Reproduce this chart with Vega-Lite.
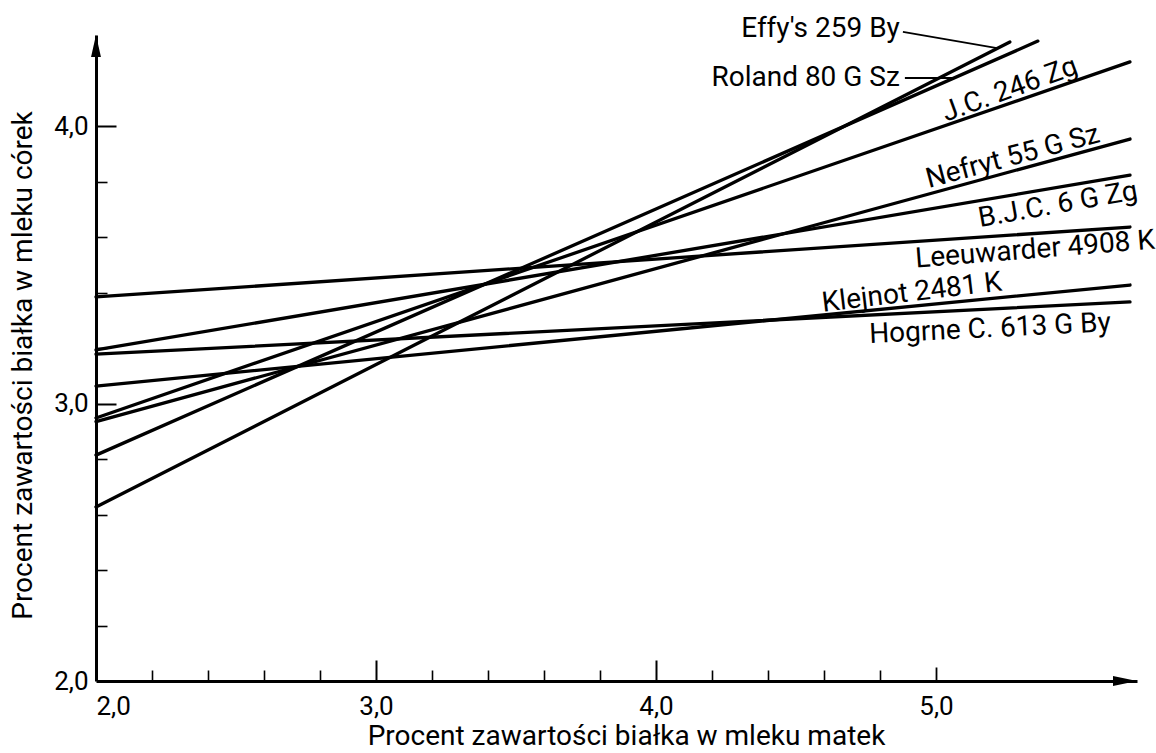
{
  "$schema": "https://vega.github.io/schema/vega-lite/v6.json",
  "width": 1041,
  "height": 646,
  "autosize": {"type": "none"},
  "padding": {"left": 96, "top": 35, "right": 19, "bottom": 72},
  "background": "white",
  "config": {"view": {"stroke": null}, "font": "Roboto", "axis": {"grid": false}},
  "datasets": {
    "lines": [
      {"name": "Effy's 259 By", "x": 2.0, "y": 2.627},
      {"name": "Effy's 259 By", "x": 5.264, "y": 4.303},
      {"name": "Roland 80 G Sz", "x": 2.0, "y": 2.814},
      {"name": "Roland 80 G Sz", "x": 5.364, "y": 4.306},
      {"name": "J.C. 246 Zg", "x": 2.0, "y": 2.948},
      {"name": "J.C. 246 Zg", "x": 5.693, "y": 4.231},
      {"name": "Nefryt 55 G Sz", "x": 2.0, "y": 2.935},
      {"name": "Nefryt 55 G Sz", "x": 5.693, "y": 3.953},
      {"name": "B.J.C. 6 G Zg", "x": 2.0, "y": 3.193},
      {"name": "B.J.C. 6 G Zg", "x": 5.693, "y": 3.823},
      {"name": "Leeuwarder 4908 K", "x": 2.0, "y": 3.384},
      {"name": "Leeuwarder 4908 K", "x": 5.693, "y": 3.636},
      {"name": "Klejnot 2481 K", "x": 2.0, "y": 3.063},
      {"name": "Klejnot 2481 K", "x": 5.693, "y": 3.427},
      {"name": "Hogrne C. 613 G By", "x": 2.0, "y": 3.178},
      {"name": "Hogrne C. 613 G By", "x": 5.693, "y": 3.366}
    ],
    "labels": [
      {"name": "Effy's 259 By", "x": 4.871, "y": 4.350},
      {"name": "Roland 80 G Sz", "x": 4.871, "y": 4.173},
      {"name": "J.C. 246 Zg", "x": 5.264, "y": 4.130},
      {"name": "Nefryt 55 G Sz", "x": 5.275, "y": 3.888},
      {"name": "B.J.C. 6 G Zg", "x": 5.436, "y": 3.715},
      {"name": "Leeuwarder 4908 K", "x": 5.354, "y": 3.553},
      {"name": "Klejnot 2481 K", "x": 4.914, "y": 3.398},
      {"name": "Hogrne C. 613 G By", "x": 5.193, "y": 3.268}
    ],
    "leaders": [
      {"name": "Effy's 259 By", "x": 4.882, "y": 4.339, "x2": 5.218, "y2": 4.281},
      {"name": "Roland 80 G Sz", "x": 4.889, "y": 4.173, "x2": 5.068, "y2": 4.173}
    ],
    "arrows": [
      {"axis": "y", "x": 2.0, "y": 4.328},
      {"axis": "x", "x": 5.718, "y": 2.0}
    ]
  },
  "resolve": {"axis": {"x": "independent", "y": "independent"}},
  "layer": [
    {
      "data": {"name": "lines"},
      "mark": {"type": "line", "color": "black", "strokeWidth": 3.3, "strokeCap": "round"},
      "encoding": {
        "x": {"field": "x", "type": "quantitative",
              "scale": {"domain": [2, 5.718], "nice": false, "zero": false},
              "axis": {"orient": "bottom", "values": [2, 3, 4, 5], "format": ".1f",
                       "labelExpr": "replace(datum.label, '.', ',')",
                       "ticks": false, "domain": true, "domainColor": "black", "domainWidth": 3,
                       "labelFontSize": 26, "labelColor": "black", "labelPadding": 12,
                       "title": "Procent  zawartości białka w mleku matek",
                       "titleFontSize": 28, "titleFontWeight": "normal", "titleColor": "black",
                       "titlePadding": 3, "titleX": 530}},
        "y": {"field": "y", "type": "quantitative",
              "scale": {"domain": [2, 4.328], "nice": false, "zero": false},
              "axis": {"orient": "left", "values": [2, 3, 4], "format": ".1f",
                       "labelExpr": "replace(datum.label, '.', ',')",
                       "ticks": false, "domain": true, "domainColor": "black", "domainWidth": 3,
                       "labelFontSize": 26, "labelColor": "black", "labelPadding": 8,
                       "title": "Procent  zawartości  białka w mleku córek",
                       "titleFontSize": 28, "titleFontWeight": "normal", "titleColor": "black",
                       "titlePadding": 16, "titleY": 330}},
        "detail": {"field": "name"}
      }
    },
    {
      "data": {"name": "lines"},
      "mark": {"type": "point", "opacity": 0},
      "encoding": {
        "x": {"field": "x", "type": "quantitative",
              "scale": {"domain": [2, 5.718], "nice": false, "zero": false},
              "axis": {"orient": "bottom", "values": [3, 4], "tickSize": -21, "tickWidth": 2,
                       "tickColor": "black", "labels": false, "domain": false, "title": null}},
        "y": {"field": "y", "type": "quantitative",
              "scale": {"domain": [2, 4.328], "nice": false, "zero": false},
              "axis": {"orient": "left", "values": [3, 4], "tickSize": -20, "tickWidth": 2,
                       "tickColor": "black", "labels": false, "domain": false, "title": null}}
      }
    },
    {
      "data": {"name": "lines"},
      "mark": {"type": "point", "opacity": 0},
      "encoding": {
        "x": {"field": "x", "type": "quantitative",
              "scale": {"domain": [2, 5.718], "nice": false, "zero": false},
              "axis": {"orient": "bottom", "values": [2.2, 2.4, 2.6, 2.8, 3.2, 3.4, 3.6, 3.8, 4.2, 4.4, 4.6, 4.8],
                       "tickSize": -11, "tickWidth": 1.6,
                       "tickColor": "black", "labels": false, "domain": false, "title": null}},
        "y": {"field": "y", "type": "quantitative",
              "scale": {"domain": [2, 4.328], "nice": false, "zero": false},
              "axis": {"orient": "left", "values": [2.2, 2.4, 2.6, 2.8, 3.2, 3.4, 3.6, 3.8],
                       "tickSize": -11, "tickWidth": 1.6,
                       "tickColor": "black", "labels": false, "domain": false, "title": null}}
      }
    },
    {
      "data": {"name": "lines"},
      "mark": {"type": "point", "opacity": 0},
      "encoding": {
        "x": {"field": "x", "type": "quantitative",
              "scale": {"domain": [2, 5.718], "nice": false, "zero": false},
              "axis": {"orient": "bottom", "values": [5],
                       "tickSize": -14, "tickWidth": 1.8,
                       "tickColor": "black", "labels": false, "domain": false, "title": null}},
        "y": {"field": "y", "type": "quantitative",
              "scale": {"domain": [2, 4.328], "nice": false, "zero": false},
              "axis": null}
      }
    },
    {
      "data": {"name": "arrows"},
      "transform": [{"filter": "datum.axis === 'y'"}],
      "mark": {"type": "point", "shape": "M0,0L0.45,2L-0.45,2Z", "filled": true, "color": "black", "size": 484, "opacity": 1},
      "encoding": {
        "x": {"field": "x", "type": "quantitative", "scale": {"domain": [2, 5.718], "nice": false, "zero": false}, "axis": null},
        "y": {"field": "y", "type": "quantitative", "scale": {"domain": [2, 4.328], "nice": false, "zero": false}, "axis": null}
      }
    },
    {
      "data": {"name": "arrows"},
      "transform": [{"filter": "datum.axis === 'x'"}],
      "mark": {"type": "point", "shape": "M0,0L-2,-0.42L-2,0.42Z", "filled": true, "color": "black", "size": 576, "opacity": 1},
      "encoding": {
        "x": {"field": "x", "type": "quantitative", "scale": {"domain": [2, 5.718], "nice": false, "zero": false}, "axis": null},
        "y": {"field": "y", "type": "quantitative", "scale": {"domain": [2, 4.328], "nice": false, "zero": false}, "axis": null}
      }
    },
    {
      "data": {"name": "leaders"},
      "mark": {"type": "rule", "color": "black", "strokeWidth": 1.8},
      "encoding": {
        "x": {"field": "x", "type": "quantitative", "scale": {"domain": [2, 5.718], "nice": false, "zero": false}, "axis": null},
        "y": {"field": "y", "type": "quantitative", "scale": {"domain": [2, 4.328], "nice": false, "zero": false}, "axis": null},
        "x2": {"field": "x2"},
        "y2": {"field": "y2"}
      }
    },
    {
      "data": {"name": "labels"},
      "transform": [{"filter": "datum.name === \"Effy's 259 By\" || datum.name === 'Roland 80 G Sz'"}],
      "mark": {"type": "text", "align": "right", "baseline": "middle", "fontSize": 28, "color": "black"},
      "encoding": {
        "x": {"field": "x", "type": "quantitative", "scale": {"domain": [2, 5.718], "nice": false, "zero": false}, "axis": null},
        "y": {"field": "y", "type": "quantitative", "scale": {"domain": [2, 4.328], "nice": false, "zero": false}, "axis": null},
        "text": {"field": "name"}
      }
    },
    {
      "data": {"name": "labels"},
      "transform": [{"filter": "datum.name === 'J.C. 246 Zg'"}],
      "mark": {"type": "text", "align": "center", "baseline": "middle", "fontSize": 28, "color": "black", "angle": -20},
      "encoding": {
        "x": {"field": "x", "type": "quantitative", "scale": {"domain": [2, 5.718], "nice": false, "zero": false}, "axis": null},
        "y": {"field": "y", "type": "quantitative", "scale": {"domain": [2, 4.328], "nice": false, "zero": false}, "axis": null},
        "text": {"field": "name"}
      }
    },
    {
      "data": {"name": "labels"},
      "transform": [{"filter": "datum.name === 'Nefryt 55 G Sz'"}],
      "mark": {"type": "text", "align": "center", "baseline": "middle", "fontSize": 28, "color": "black", "angle": -15},
      "encoding": {
        "x": {"field": "x", "type": "quantitative", "scale": {"domain": [2, 5.718], "nice": false, "zero": false}, "axis": null},
        "y": {"field": "y", "type": "quantitative", "scale": {"domain": [2, 4.328], "nice": false, "zero": false}, "axis": null},
        "text": {"field": "name"}
      }
    },
    {
      "data": {"name": "labels"},
      "transform": [{"filter": "datum.name === 'B.J.C. 6 G Zg'"}],
      "mark": {"type": "text", "align": "center", "baseline": "middle", "fontSize": 28, "color": "black", "angle": -10},
      "encoding": {
        "x": {"field": "x", "type": "quantitative", "scale": {"domain": [2, 5.718], "nice": false, "zero": false}, "axis": null},
        "y": {"field": "y", "type": "quantitative", "scale": {"domain": [2, 4.328], "nice": false, "zero": false}, "axis": null},
        "text": {"field": "name"}
      }
    },
    {
      "data": {"name": "labels"},
      "transform": [{"filter": "datum.name === 'Leeuwarder 4908 K'"}],
      "mark": {"type": "text", "align": "center", "baseline": "middle", "fontSize": 28, "color": "black", "angle": -4.5},
      "encoding": {
        "x": {"field": "x", "type": "quantitative", "scale": {"domain": [2, 5.718], "nice": false, "zero": false}, "axis": null},
        "y": {"field": "y", "type": "quantitative", "scale": {"domain": [2, 4.328], "nice": false, "zero": false}, "axis": null},
        "text": {"field": "name"}
      }
    },
    {
      "data": {"name": "labels"},
      "transform": [{"filter": "datum.name === 'Klejnot 2481 K'"}],
      "mark": {"type": "text", "align": "center", "baseline": "middle", "fontSize": 28, "color": "black", "angle": -6.8},
      "encoding": {
        "x": {"field": "x", "type": "quantitative", "scale": {"domain": [2, 5.718], "nice": false, "zero": false}, "axis": null},
        "y": {"field": "y", "type": "quantitative", "scale": {"domain": [2, 4.328], "nice": false, "zero": false}, "axis": null},
        "text": {"field": "name"}
      }
    },
    {
      "data": {"name": "labels"},
      "transform": [{"filter": "datum.name === 'Hogrne C. 613 G By'"}],
      "mark": {"type": "text", "align": "center", "baseline": "middle", "fontSize": 28, "color": "black", "angle": -2.8},
      "encoding": {
        "x": {"field": "x", "type": "quantitative", "scale": {"domain": [2, 5.718], "nice": false, "zero": false}, "axis": null},
        "y": {"field": "y", "type": "quantitative", "scale": {"domain": [2, 4.328], "nice": false, "zero": false}, "axis": null},
        "text": {"field": "name"}
      }
    }
  ]
}
